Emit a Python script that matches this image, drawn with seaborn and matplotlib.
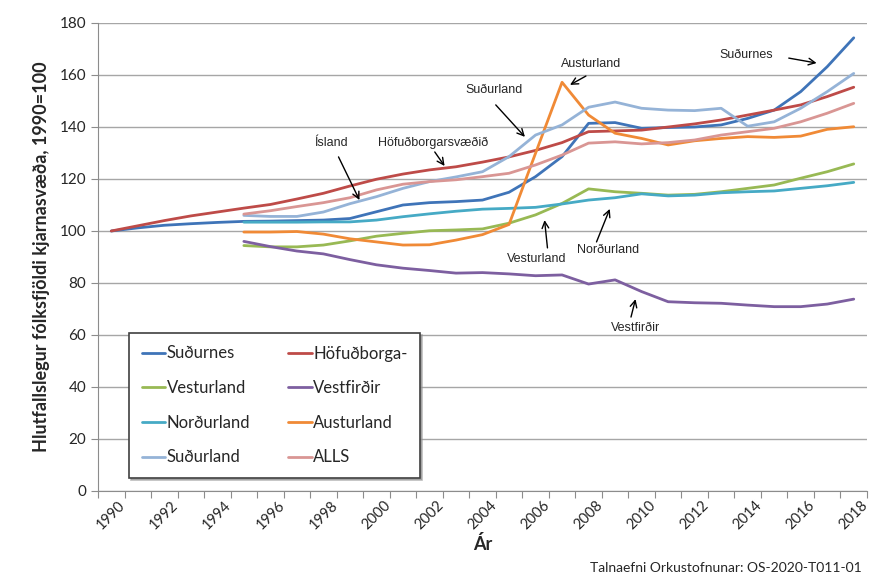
import matplotlib
matplotlib.use("Agg")
import matplotlib.pyplot as plt
import seaborn as sns
import pandas as pd

# ár (flokkar á x-ás)
years = list(range(1990, 2019))
years_95 = list(range(1995, 2019))

# vísitala fólksfjölda, 1990=100
sudurnes = [100, 101.2, 102.2, 102.8, 103.3, 103.7, 103.8, 104.0, 104.2, 104.8,
            107.4, 110.0, 110.9, 111.3, 111.9, 114.9, 120.9, 128.6, 141.4, 141.7,
            139.5, 139.8, 140.0, 140.8, 143.3, 146.5, 153.6, 163.2, 174.3]
hofudborg = [100, 102.0, 104.0, 105.8, 107.3, 108.8, 110.2, 112.3, 114.5, 117.3,
             119.9, 121.9, 123.5, 124.7, 126.5, 128.5, 131.0, 134.0, 138.2, 138.5,
             138.8, 140.0, 141.2, 142.7, 144.6, 146.5, 148.5, 151.7, 155.3]
vesturland = [94.4, 93.9, 93.9, 94.6, 96.2, 98.0, 99.1, 100.1, 100.4, 100.8,
              103.0, 106.2, 110.6, 116.2, 115.1, 114.5, 113.8, 114.1, 115.1, 116.4,
              117.7, 120.3, 122.8, 125.8]
vestfirdir = [96.0, 94.0, 92.3, 91.2, 89.0, 87.0, 85.7, 84.8, 83.8, 84.0,
              83.5, 82.8, 83.1, 79.6, 81.2, 76.7, 72.8, 72.4, 72.2, 71.5,
              70.9, 70.9, 71.9, 73.8]
nordurland = [103.4, 103.4, 103.4, 103.5, 103.5, 104.2, 105.5, 106.6, 107.6, 108.4,
              108.7, 109.1, 110.4, 111.9, 112.8, 114.3, 113.5, 113.8, 114.7, 115.1,
              115.4, 116.4, 117.4, 118.7]
austurland = [99.6, 99.6, 99.8, 98.8, 97.0, 95.8, 94.6, 94.7, 96.5, 98.6,
              102.5, 129.9, 157.2, 144.6, 137.6, 135.6, 133.1, 134.7, 135.6, 136.3,
              136.0, 136.5, 139.1, 140.1]
sudurland = [106.0, 105.6, 105.6, 107.3, 110.5, 113.2, 116.4, 119.0, 120.8, 122.8,
             128.6, 136.9, 140.8, 147.6, 149.6, 147.2, 146.5, 146.3, 147.2, 140.3,
             142.0, 147.2, 153.6, 160.6]
alls = [106.5, 107.8, 109.4, 110.9, 112.8, 115.8, 118.0, 119.0, 119.7, 120.9,
        122.2, 125.4, 129.2, 133.8, 134.3, 133.5, 134.0, 135.0, 136.9, 138.2,
        139.5, 142.0, 145.3, 149.1]

series = [
    ("Suðurnes", years, sudurnes, "#3F74B8"),
    ("Höfuðborga-", years, hofudborg, "#BE4B48"),
    ("Vesturland", years_95, vesturland, "#98B954"),
    ("Vestfirðir", years_95, vestfirdir, "#7D5FA0"),
    ("Norðurland", years_95, nordurland, "#46AAC5"),
    ("Austurland", years_95, austurland, "#F08A36"),
    ("Suðurland", years_95, sudurland, "#95B3D7"),
    ("ALLS", years_95, alls, "#D99694"),
]

# (texti, staðsetning texta, ör frá, ör að)
notes = [
    ("Suðurnes", (2013.95, 167.7), (2015.55, 166.5), (2016.6, 164.6)),
    ("Austurland", (2008.1, 164.2), (2007.9, 159.6), (2007.3, 156.2)),
    ("Suðurland", (2004.45, 154.2), (2004.5, 148.5), (2005.6, 136.2)),
    ("Höfuðborgarsvæðið", (2002.15, 133.8), (2002.2, 130.4), (2002.57, 125.0)),
    ("Ísland", (1998.3, 133.8), (1998.57, 128.5), (1999.36, 111.9)),
    ("Vesturland", (2006.05, 89.2), (2006.45, 93.5), (2006.34, 104.2)),
    ("Norðurland", (2008.75, 92.7), (2008.3, 95.8), (2008.8, 108.5)),
    ("Vestfirðir", (2009.77, 62.7), (2009.6, 66.9), (2009.77, 73.8)),
]

sns.set_style("white")
plt.rcParams["font.family"] = ["Lato", "DejaVu Sans"]

fig = plt.figure(figsize=(8.77, 5.77), dpi=100)
ax = fig.add_axes([98 / 877, 1 - 491 / 577, 769 / 877, 468 / 577])

handles = {}
for name, xs, ys, col in series:
    df = pd.DataFrame({"ar": xs, "gildi": ys})
    sns.lineplot(data=df, x="ar", y="gildi", color=col, linewidth=2.0, ax=ax, label=name)
    handles[name] = ax.lines[-1]

ax.set_xlim(1989.5, 2018.5)
ax.set_ylim(0, 180)
ax.set_yticks(range(0, 181, 20))
ax.grid(axis="y", color="#A6A6A6", linewidth=1)
ax.set_axisbelow(True)
for s in ["top", "right"]:
    ax.spines[s].set_visible(False)
for s in ["left", "bottom"]:
    ax.spines[s].set_color("#8C8C8C")

# tikk á mörkum flokka, merki á miðju flokka
ax.set_xticks([y - 0.5 for y in years] + [2018.5])
ax.set_xticklabels([])
ax.set_xticks(years[::2], minor=True)
ax.set_xticklabels([str(y) for y in years[::2]], minor=True, rotation=45, ha="center", fontsize=10.5)
ax.tick_params(axis="x", which="major", length=5, color="#8C8C8C", direction="out", bottom=True)
ax.tick_params(axis="x", which="minor", length=0, pad=5)
ax.tick_params(axis="y", length=5, color="#8C8C8C", direction="out", left=True, labelsize=11)

ax.set_xlabel("Ár", fontsize=13, fontweight="bold", labelpad=2)
ax.set_ylabel("Hlutfallslegur fólksfjöldi kjarnasvæða, 1990=100", fontsize=13, fontweight="bold", labelpad=7)

for txt, pos, tail, head in notes:
    ax.text(pos[0], pos[1], txt, ha="center", va="center", fontsize=9, family=["Liberation Sans", "DejaVu Sans"])
    ax.annotate("", xy=head, xytext=tail,
                arrowprops=dict(arrowstyle="->", color="black", lw=1, mutation_scale=12, shrinkA=0, shrinkB=0))

order = ["Suðurnes", "Vesturland", "Norðurland", "Suðurland",
         "Höfuðborga-", "Vestfirðir", "Austurland", "ALLS"]
leg = ax.legend([handles[n] for n in order], order, ncol=2, loc="upper left",
                bbox_to_anchor=(31 / 769, 158 / 468), fontsize=12, frameon=True, fancybox=False,
                shadow={"color": "#909090", "alpha": 0.6, "ox": 1.5, "oy": -1.5},
                handlelength=1.4, handletextpad=0.1, columnspacing=2.3,
                labelspacing=1.12, borderpad=0.75, borderaxespad=0)
leg.get_frame().set_edgecolor("#404040")
leg.get_frame().set_linewidth(1.2)

fig.text(862 / 877, 1 - 568 / 577, "Talnaefni Orkustofnunar: OS-2020-T011-01", ha="right", va="center", fontsize=10)

fig.savefig("out.png", dpi=100)
